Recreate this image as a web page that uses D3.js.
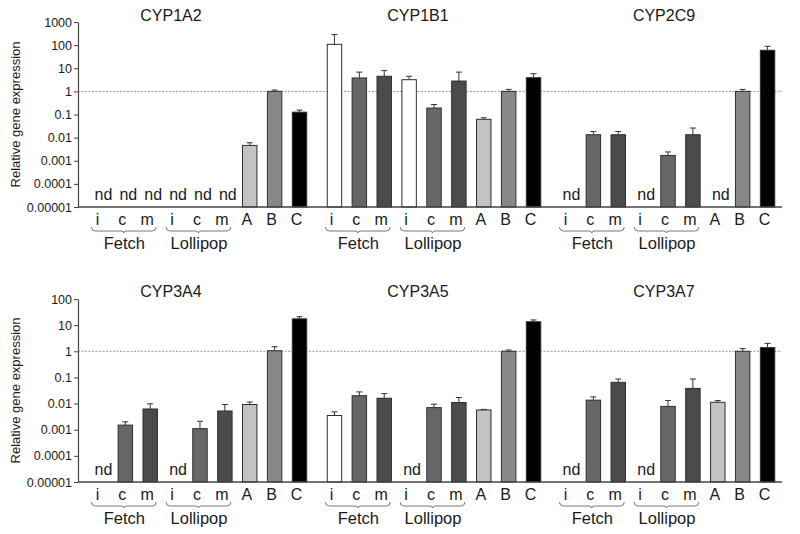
<!DOCTYPE html>
<html><head><meta charset="utf-8">
<script src="https://cdn.jsdelivr.net/npm/d3@7"></script>
<style>
html,body{margin:0;padding:0;background:#fff;}
svg{display:block;font-family:"Liberation Sans",Arial,sans-serif;}
</style></head>
<body><svg id="chart" width="800" height="534"></svg>
<script>
// ---- data ----
const categories = ["i","c","m","i","c","m","A","B","C"];
const groupLabels = ["Fetch","Lollipop"];
const genesTop = ["CYP1A2","CYP1B1","CYP2C9"];
const genesBottom = ["CYP3A4","CYP3A5","CYP3A7"];
const tickLabelsTop = ["1000","100","10","1","0.1","0.01","0.001","0.0001","0.00001"];
const tickLabelsBottom = ["100","10","1","0.1","0.01","0.001","0.0001","0.00001"];
const yLabel = "Relative gene expression";
const ndLabel = "nd";

// values (null = not detected) and upper error limits
const cyp1a2 = [null,null,null,null,null,null,0.0046,1.0,0.126];
const cyp1a2Err = [null,null,null,null,null,null,0.006,1.14,0.155];
const cyp1b1 = [108,3.8,4.5,3.2,0.19,2.8,0.062,1.0,3.9];
const cyp1b1Err = [285,6.8,7.9,4.5,0.27,6.8,0.072,1.22,5.8];
const cyp2c9 = [null,0.0133,0.0133,null,0.0017,0.0133,null,1.0,60];
const cyp2c9Err = [null,0.0185,0.0185,null,0.0024,0.026,null,1.22,89];
const cyp3a4 = [null,0.0015,0.0062,null,0.0011,0.0052,0.0092,1.05,17.4];
const cyp3a4Err = [null,0.002,0.0098,null,0.0021,0.0092,0.0115,1.5,21];
const cyp3a5 = [0.0035,0.02,0.016,null,0.007,0.011,0.0057,1.0,13.5];
const cyp3a5Err = [0.0048,0.028,0.024,null,0.0095,0.017,0.006,1.12,15.8];
const cyp3a7 = [null,0.0135,0.065,null,0.0078,0.038,0.0112,1.0,1.38];
const cyp3a7Err = [null,0.018,0.087,null,0.013,0.087,0.013,1.27,2.0];

const barColors = ["#ffffff","#676767","#4b4b4b","#ffffff","#676767","#4b4b4b","#c3c3c3","#888888","#000000"];

const topRow = [
  {gene: genesTop[0], v: cyp1a2, e: cyp1a2Err},
  {gene: genesTop[1], v: cyp1b1, e: cyp1b1Err},
  {gene: genesTop[2], v: cyp2c9, e: cyp2c9Err}
];
const bottomRow = [
  {gene: genesBottom[0], v: cyp3a4, e: cyp3a4Err},
  {gene: genesBottom[1], v: cyp3a5, e: cyp3a5Err},
  {gene: genesBottom[2], v: cyp3a7, e: cyp3a7Err}
];

// ---- layout ----
const svg = d3.select("#chart");
const axisX0 = 78, axisX1 = 782;
const titleX = [171, 418, 664];
const textCol = "#1a1a1a";

const panelScale = d3.scaleBand().domain([0,1,2]).range([88, 780]).paddingInner(0.043);
const slotIdx = d3.range(categories.length);

function drawRow(rows, domainMax, tickLabels, yTop, yBottom, titleY) {
  const y = d3.scaleLog().domain([1e-5, domainMax]).range([yBottom, yTop]);
  const g = svg.append("g");

  // y axis
  const tickVals = tickLabels.map(Number);
  const ax = d3.axisLeft(y).tickValues(tickVals)
      .tickFormat((d,i) => tickLabels[i]).tickSize(4).tickSizeOuter(0);
  const axG = g.append("g").attr("transform", `translate(${axisX0},0)`).call(ax);
  axG.select(".domain").attr("stroke", "#444").attr("stroke-width", 1.2);
  axG.selectAll(".tick line").attr("stroke", "#444");
  axG.selectAll(".tick text").attr("fill", textCol).attr("font-size", 12.5)
     .attr("font-family", "Liberation Sans, Arial, sans-serif").attr("x", -6);

  // y label
  g.append("text").attr("transform", `translate(20,${(yTop+yBottom)/2}) rotate(-90)`)
    .attr("text-anchor","middle").attr("font-size", 13).attr("fill", textCol).text(yLabel);

  // reference line at 1
  g.append("line").attr("x1", axisX0).attr("x2", axisX1).attr("y1", y(1)).attr("y2", y(1))
    .attr("stroke", "#8a8a8a").attr("stroke-width", 0.9).attr("stroke-dasharray", "2,1.5");

  rows.forEach((row, p) => {
    const inner = d3.scaleBand().domain(slotIdx)
      .range([panelScale(p), panelScale(p) + panelScale.bandwidth()]).paddingInner(0.42).paddingOuter(0.21);
    const cx = i => inner(i) + inner.bandwidth()/2;

    // title
    g.append("text").attr("x", titleX[p]).attr("y", titleY).attr("text-anchor","middle")
      .attr("font-size", 16).attr("fill", textCol).text(row.gene);

    // bars
    slotIdx.forEach(i => {
      const v = row.v[i];
      if (v == null) {
        g.append("text").attr("x", cx(i) + 3).attr("y", yBottom - 7).attr("text-anchor","middle")
          .attr("font-size", 16).attr("fill", textCol).text(ndLabel);
        return;
      }
      const e = row.e[i];
      if (e != null) {
        g.append("line").attr("x1", cx(i)).attr("x2", cx(i)).attr("y1", y(v)).attr("y2", y(e))
          .attr("stroke", "#333").attr("stroke-width", 1);
        g.append("line").attr("x1", cx(i)-3).attr("x2", cx(i)+3).attr("y1", y(e)).attr("y2", y(e))
          .attr("stroke", "#333").attr("stroke-width", 1);
      }
      g.append("rect").attr("x", inner(i)).attr("width", inner.bandwidth())
        .attr("y", y(v)).attr("height", y(1e-5) - y(v))
        .attr("fill", barColors[i]).attr("stroke", "#2e2e2e").attr("stroke-width", 1);
    });

    // category labels
    slotIdx.forEach(i => {
      g.append("text").attr("x", cx(i) - 3).attr("y", yBottom + 18).attr("text-anchor","middle")
        .attr("font-size", 16).attr("fill", textCol).text(categories[i]);
    });

    // group braces + labels
    groupLabels.forEach((lab, k) => {
      const a = cx(k*3) - 9, b = cx(k*3+2) + 6, m = (a+b)/2;
      const by = yBottom + 24;
      const path = `M${a},${by-4} Q${a},${by} ${a+4},${by} L${m-3},${by} Q${m},${by} ${m},${by+2} Q${m},${by} ${m+3},${by} L${b-4},${by} Q${b},${by} ${b},${by-4}`;
      g.append("path").attr("d", path).attr("fill","none").attr("stroke","#666").attr("stroke-width",0.9);
      g.append("text").attr("x", (cx(k*3)+cx(k*3+2))/2 - 1).attr("y", yBottom + 42).attr("text-anchor","middle")
        .attr("font-size", 16.5).attr("fill", textCol).text(lab);
    });
  });

  // x axis line
  g.append("line").attr("x1", axisX0).attr("x2", axisX1).attr("y1", yBottom).attr("y2", yBottom)
    .attr("stroke", "#444").attr("stroke-width", 1.4);
}

drawRow(topRow, 1000, tickLabelsTop, 22, 207, 21);
drawRow(bottomRow, 100, tickLabelsBottom, 299, 482, 297);
</script></body></html>
